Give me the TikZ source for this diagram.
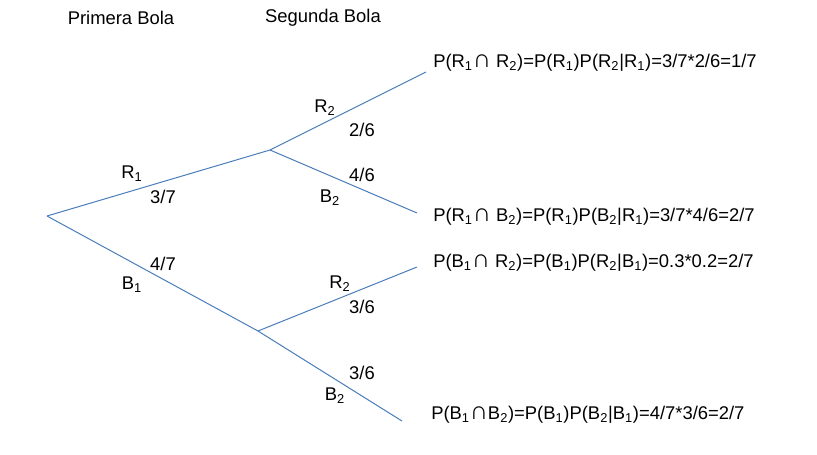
\documentclass[tikz,border=0pt]{standalone}
\usepackage{fontspec}
\setmainfont{Liberation Sans}
\definecolor{ptLine}{HTML}{4A7EBB}
\definecolor{ptText}{HTML}{000000}
\usetikzlibrary{positioning}
\newcommand{\sbs}[1]{\textsubscript{#1}}
\newcommand{\capint}{{\fontsize{19}{19}\selectfont ∩}}

\begin{document}
\begin{tikzpicture}[x=0.75pt,y=-0.75pt,
  branch/.style={ptLine, line width=0.75pt},
  lbl/.style={inner sep=0pt, text=ptText, font=\fontsize{13.8}{16}\selectfont},
  leaf/.style={lbl, anchor=west}]
  \useasboundingbox (0,0) rectangle (817,454);
  \node[lbl] (headA) at (121,18) {Primera Bola};
  \node[lbl] (headB) at (323,18) {Segunda Bola};
  \coordinate (root) at (47,216);
  \coordinate (redOne) at (270,150);
  \coordinate (blueOne) at (258,331);
  \coordinate (rrEnd) at (426,72);
  \coordinate (rbEnd) at (417,213);
  \coordinate (brEnd) at (417,267);
  \coordinate (bbEnd) at (402,421);
  \draw[branch] (root) -- (redOne);
  \draw[branch] (root) -- (blueOne);
  \draw[branch] (redOne) -- (rrEnd);
  \draw[branch] (redOne) -- (rbEnd);
  \draw[branch] (blueOne) -- (brEnd);
  \draw[branch] (blueOne) -- (bbEnd);
  \node[lbl] (labR1) at (132,174) {R\sbs{1}};
  \node[lbl] (prR1) at (163,197) {3/7};
  \node[lbl] (prB1) at (163,264) {4/7};
  \node[lbl] (labB1) at (132,285) {B\sbs{1}};
  \node[lbl] (labRR) at (325,108) {R\sbs{2}};
  \node[lbl] (prRR) at (362,130) {2/6};
  \node[lbl] (prRB) at (362,175) {4/6};
  \node[lbl] (labRB) at (330,198) {B\sbs{2}};
  \node[lbl] (labBR) at (340,284) {R\sbs{2}};
  \node[lbl] (prBR) at (362,307) {3/6};
  \node[lbl] (prBB) at (362,373) {3/6};
  \node[lbl] (labBB) at (335,396) {B\sbs{2}};
  \node[leaf] (leafRR) at (433,63) {P(R\sbs{1}\capint\ R\sbs{2})=P(R\sbs{1})P(R\sbs{2}|R\sbs{1})=3/7*2/6=1/7};
  \node[leaf] (leafRB) at (433,217) {P(R\sbs{1}\capint\ B\sbs{2})=P(R\sbs{1})P(B\sbs{2}|R\sbs{1})=3/7*4/6=2/7};
  \node[leaf] (leafBR) at (433,263) {P(B\sbs{1}\capint\ R\sbs{2})=P(B\sbs{1})P(R\sbs{2}|B\sbs{1})=0.3*0.2=2/7};
  \node[leaf] (leafBB) at (431,415) {P(B\sbs{1}\capint B\sbs{2})=P(B\sbs{1})P(B\sbs{2}|B\sbs{1})=4/7*3/6=2/7};
\end{tikzpicture}
\end{document}
